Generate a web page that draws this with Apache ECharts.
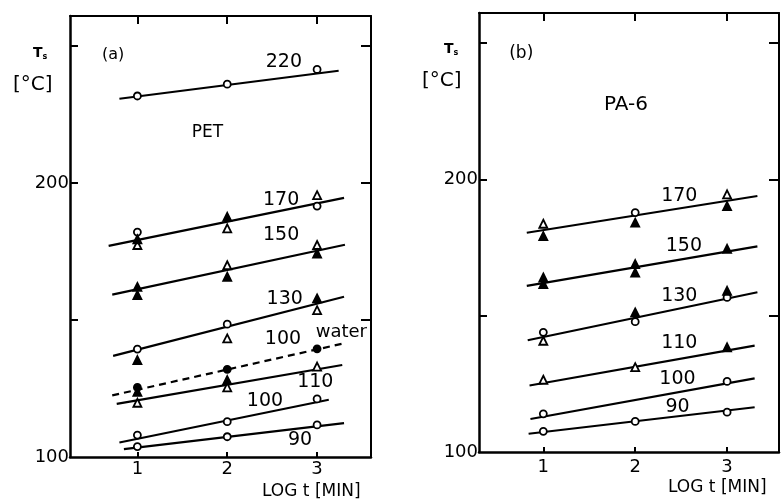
<!DOCTYPE html>
<html><head><meta charset="utf-8">
<script src="https://cdn.jsdelivr.net/npm/echarts@6/dist/echarts.min.js"></script>
<style>html,body{margin:0;padding:0;background:#fff}#c{width:783px;height:501px}</style>
</head><body><div id="c"></div>
<script>
// ---------- data ----------
const xTickValues = [1, 2, 3];
const yLabelValues = [100, 200];
const yTickValues = [150, 200, 250];

// PET fit lines [x, Ts]
const pet220Line = [[0.80, 230.8], [3.24, 241.0]];
const pet170Line = [[0.68, 177.1], [3.30, 194.6]];
const pet150Line = [[0.72, 159.3], [3.31, 177.5]];
const pet130Line = [[0.73, 136.9], [3.30, 158.5]];
const pet100WaterLine = [[0.72, 122.5], [3.30, 141.5]];
const pet110Line = [[0.77, 119.4], [3.28, 133.6]];
const pet100Line = [[0.80, 105.3], [3.13, 120.9]];
const pet90Line = [[0.85, 102.9], [3.30, 112.4]];

// PET markers
const petOpenCircles = [[1, 231.8], [2, 236.1], [3, 241.5], [1, 182.1], [3, 191.6], [1, 139.4], [2, 148.5],
  [1, 108.0], [2, 112.9], [3, 121.2], [1, 103.8], [2, 107.4], [3, 111.7]];
const petOpenTriangles = [[1, 177.4], [2, 183.5], [3, 195.6], [2, 170.0], [3, 177.4], [2, 143.3], [3, 153.6],
  [1, 119.8], [2, 125.4], [3, 133.0]];
const petFilledTriangles = [[1, 179.5], [2, 187.7], [1, 162.1], [1, 159.1], [2, 165.8], [3, 174.3],
  [1, 135.4], [3, 157.9], [1, 123.8], [2, 128.1]];
const petFilledCircles = [[1, 125.4], [2, 132.0], [3, 139.5]];

// PA-6 fit lines
const pa170Line = [[0.82, 180.4], [3.33, 193.9]];
const pa150Line = [[0.82, 160.9], [3.33, 175.4]];
const pa130Line = [[0.83, 141.0], [3.33, 158.6]];
const pa110Line = [[0.85, 124.4], [3.30, 139.0]];
const pa100Line = [[0.86, 112.1], [3.30, 127.0]];
const pa90Line = [[0.84, 106.7], [3.30, 116.4]];

// PA-6 markers
const paOpenCircles = [[2, 187.8], [1, 143.9], [2, 147.8], [3, 156.7], [1, 114.0], [3, 125.9],
  [1, 107.6], [2, 111.2], [3, 114.6]];
const paOpenTriangles = [[1, 183.7], [3, 194.5], [1, 140.8], [1, 126.5], [2, 131.1]];
const paFilledTriangles = [[1, 179.2], [2, 184.1], [3, 190.2], [1, 164.0], [1, 161.6], [2, 168.9],
  [2, 165.8], [3, 174.5], [2, 151.2], [3, 159.1], [3, 138.4]];

// annotation texts anchored in data coordinates
const petLabelTexts = ['220', '170', '150', '130', '100', '110', '100', '90'];
const petLabelAnchors = [[2.63, 244.2], [2.60, 193.8], [2.60, 181.0], [2.64, 157.7], [2.62, 143.1], [2.98, 127.4], [2.42, 120.4], [2.81, 106.2]];
const paLabelTexts = ['170', '150', '130', '110', '100', '90'];
const paLabelAnchors = [[2.48, 193.9], [2.53, 175.6], [2.48, 157.3], [2.48, 140.1], [2.46, 126.9], [2.46, 116.3]];
const petTitle = ['PET', 1.78, 218.6];
const paTitle = ['PA-6', 1.90, 227.5];
const petPanelTag = ['(a)', 0.73, 246.7];
const paPanelTag = ['(b)', 0.76, 246.2];
const waterTag = ['water', 3.27, 145.6];

// ---------- chart ----------
const FONT = 'DejaVu Sans';
const chart = echarts.init(document.getElementById('c'), null, {renderer: 'canvas'});

function xAxes(grid, min, max) {
  return [
    {type: 'value', gridIndex: grid, min: min, max: max, position: 'bottom',
     axisLine: {show: true, onZero: false, lineStyle: {color: '#000', width: 2.5}},
     axisTick: {show: true, inside: true, length: 5, customValues: xTickValues, lineStyle: {color: '#000', width: 2}},
     axisLabel: {show: true, customValues: xTickValues, color: '#000', fontSize: 18, fontFamily: FONT, margin: grid === 0 ? 3 : 6},
     splitLine: {show: false}},
    {type: 'value', gridIndex: grid, min: min, max: max, position: 'top',
     axisLine: {show: true, onZero: false, lineStyle: {color: '#000', width: 2}},
     axisTick: {show: true, inside: true, length: 8, customValues: xTickValues, lineStyle: {color: '#000', width: 2}},
     axisLabel: {show: false}, splitLine: {show: false}}
  ];
}
function yAxes(grid) {
  return [
    {type: 'value', gridIndex: grid, min: 100, max: 261, position: 'left',
     axisLine: {show: true, onZero: false, lineStyle: {color: '#000', width: 2.5}},
     axisTick: {show: true, inside: true, length: 8, customValues: yTickValues, lineStyle: {color: '#000', width: 2}},
     axisLabel: {show: true, customValues: yLabelValues, color: '#000', fontSize: 18, fontFamily: FONT, margin: 1},
     splitLine: {show: false}},
    {type: 'value', gridIndex: grid, min: 100, max: 261, position: 'right',
     axisLine: {show: true, onZero: false, lineStyle: {color: '#000', width: 2}},
     axisTick: {show: true, inside: true, length: 10, customValues: yTickValues, lineStyle: {color: '#000', width: 2}},
     axisLabel: {show: false}, splitLine: {show: false}}
  ];
}

const series = [];
function fitLine(data, panel, dashed) {
  series.push({type: 'line', xAxisIndex: panel * 2, yAxisIndex: panel * 2, data: data, symbol: 'none',
    silent: true, z: 2,
    lineStyle: {color: '#000', width: 2.2, type: dashed ? [7, 5] : 'solid'}});
}
function markers(data, panel, symbol, filled) {
  series.push({type: 'scatter', xAxisIndex: panel * 2, yAxisIndex: panel * 2, data: data, symbol: symbol,
    symbolSize: symbol === 'triangle' ? 8 : 7, z: 5, silent: true,
    itemStyle: {color: filled ? '#000' : '#fff', borderColor: '#000', borderWidth: 1.8, opacity: 1}});
}
function texts(labels, anchors, panel, size) {
  series.push({type: 'scatter', xAxisIndex: panel * 2, yAxisIndex: panel * 2, symbolSize: 0, z: 6, silent: true,
    itemStyle: {opacity: 1},
    data: anchors.map((a, i) => ({value: a, name: labels[i]})),
    label: {show: true, position: 'inside', formatter: p => p.name, color: '#000', fontSize: size, fontFamily: FONT}});
}

[pet220Line, pet170Line, pet150Line, pet130Line, pet110Line, pet100Line, pet90Line].forEach(d => fitLine(d, 0, false));
fitLine(pet100WaterLine, 0, true);
markers(petOpenCircles, 0, 'circle', false);
markers(petOpenTriangles, 0, 'triangle', false);
markers(petFilledTriangles, 0, 'triangle', true);
markers(petFilledCircles, 0, 'circle', true);
[pa170Line, pa150Line, pa130Line, pa110Line, pa100Line, pa90Line].forEach(d => fitLine(d, 1, false));
markers(paOpenCircles, 1, 'circle', false);
markers(paOpenTriangles, 1, 'triangle', false);
markers(paFilledTriangles, 1, 'triangle', true);

texts(petLabelTexts, petLabelAnchors, 0, 19);
texts(paLabelTexts, paLabelAnchors, 1, 19);
texts([petTitle[0]], [[petTitle[1], petTitle[2]]], 0, 17);
texts([paTitle[0]], [[paTitle[1], paTitle[2]]], 1, 20);
texts([petPanelTag[0]], [[petPanelTag[1], petPanelTag[2]]], 0, 16);
texts([paPanelTag[0]], [[paPanelTag[1], paPanelTag[2]]], 1, 17);
texts([waterTag[0]], [[waterTag[1], waterTag[2]]], 0, 18);

const tsRich = {s: {fontSize: 8, fontFamily: FONT, fontWeight: 'bold', verticalAlign: 'bottom', padding: [8, 0, 0, 0]}};

chart.setOption({
  animation: false,
  backgroundColor: '#fff',
  grid: [
    {left: 70, top: 16, width: 301, height: 441, containLabel: false},
    {left: 479, top: 13, width: 300, height: 439, containLabel: false}
  ],
  xAxis: [...xAxes(0, 0.25, 3.6), ...xAxes(1, 0.30, 3.565)],
  yAxis: [...yAxes(0), ...yAxes(1)],
  series: series,
  graphic: [
    {type: 'text', left: 33, top: 46, style: {text: 'T{s|s}', rich: tsRich, fontSize: 14, fontWeight: 'bold', fontFamily: FONT, fill: '#000'}},
    {type: 'text', left: 13, top: 75, style: {text: '[°C]', fontSize: 20, fontFamily: FONT, fill: '#000'}},
    {type: 'text', left: 444, top: 42, style: {text: 'T{s|s}', rich: tsRich, fontSize: 14, fontWeight: 'bold', fontFamily: FONT, fill: '#000'}},
    {type: 'text', left: 422, top: 71, style: {text: '[°C]', fontSize: 20, fontFamily: FONT, fill: '#000'}},
    {type: 'text', left: 262, top: 483, style: {text: 'LOG t [MIN]', fontSize: 17, fontFamily: FONT, fill: '#000'}},
    {type: 'text', left: 668, top: 479, style: {text: 'LOG t [MIN]', fontSize: 17, fontFamily: FONT, fill: '#000'}}
  ]
});
</script></body></html>
